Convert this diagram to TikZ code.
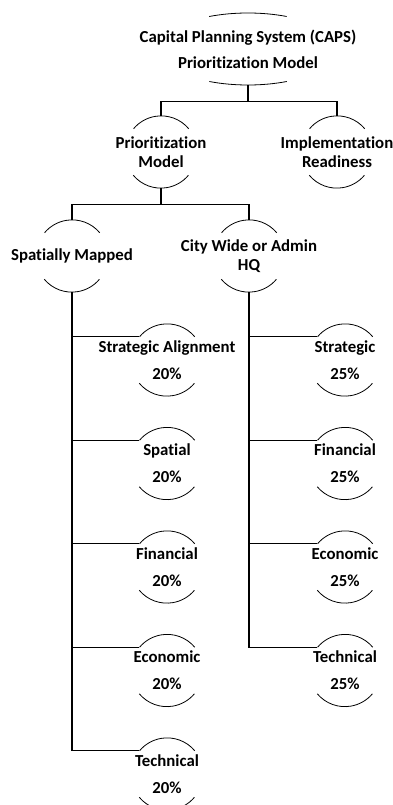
\documentclass[tikz,border=0pt]{standalone}
\usepackage{fontspec}
\setmainfont{Carlito}[Ligatures=NoCommon]

\begin{document}
\begin{tikzpicture}[x=1pt,y=1pt]
  \tikzset{
    hub/.style={circle, minimum size=72pt, inner sep=0pt},
    blocktext/.style={align=center, inner sep=0pt, font=\bfseries\fontsize{16.8}{19}\selectfont},
    rim/.style={line width=0.8pt},
    link/.style={line width=1.2pt}
  }
  \useasboundingbox (0,0) rectangle (392,-805);
  % top of the tree
  \node[blocktext, minimum width=180pt, minimum height=72pt] (caps) at (248,-49) {Capital Planning System (CAPS)\\[7pt]Prioritization Model};
  \node[hub, label={[blocktext]center:Prioritization\\Model}] (prio) at (161,-152) {};
  \node[hub, label={[blocktext]center:Implementation\\Readiness}] (impl) at (337,-152) {};
  \node[hub, label={[blocktext]center:Spatially Mapped}] (spat) at (72,-256) {};
  \node[hub, label={[blocktext]center:City Wide or Admin\\HQ}] (city) at (249,-256) {};
  % spatially mapped criteria
  \node[hub, label={[blocktext]center:Strategic Alignment\\[8pt]20\%}] (sa) at (167,-360) {};
  \node[hub, label={[blocktext]center:Spatial\\[8pt]20\%}] (sp) at (167,-463.5) {};
  \node[hub, label={[blocktext]center:Financial\\[8pt]20\%}] (fa) at (167,-567) {};
  \node[hub, label={[blocktext]center:Economic\\[8pt]20\%}] (ea) at (167,-670.5) {};
  \node[hub, label={[blocktext]center:Technical\\[8pt]20\%}] (ta) at (167,-774) {};
  % city wide criteria
  \node[hub, label={[blocktext]center:Strategic\\[8pt]25\%}] (sb) at (345,-360) {};
  \node[hub, label={[blocktext]center:Financial\\[8pt]25\%}] (fb) at (345,-463.5) {};
  \node[hub, label={[blocktext]center:Economic\\[8pt]25\%}] (eb) at (345,-567) {};
  \node[hub, label={[blocktext]center:Technical\\[8pt]25\%}] (tb) at (345,-670.5) {};

  % rims
  \draw[rim] ([shift={(38.7,32.5)}]caps.center) arc[start angle=64.5, end angle=115.5, x radius=90pt, y radius=36pt];
  \draw[rim] ([shift={(-38.7,-32.5)}]caps.center) arc[start angle=244.5, end angle=295.5, x radius=90pt, y radius=36pt];
  \foreach \n in {prio,impl,spat,city,sa,sp,fa,ea,ta,sb,fb,eb,tb} {
    \draw[rim] (\n.40) arc (40:140:36pt);
    \draw[rim] (\n.220) arc (220:320:36pt);
  }

  % links
  \draw[link] (caps.south) -- ++(0,-16) -| (prio.north);
  \draw[link] (caps.south) -- ++(0,-16) -| (impl.north);
  \draw[link] (prio.south) -- ++(0,-16) -| (spat.north);
  \draw[link] (prio.south) -- ++(0,-16) -| (city.north);
  \foreach \c in {sa,sp,fa,ea,ta}
    \draw[link] (spat.south) |- (\c.140);
  \foreach \c in {sb,fb,eb,tb}
    \draw[link] (city.south) |- (\c.140);
\end{tikzpicture}
\end{document}
